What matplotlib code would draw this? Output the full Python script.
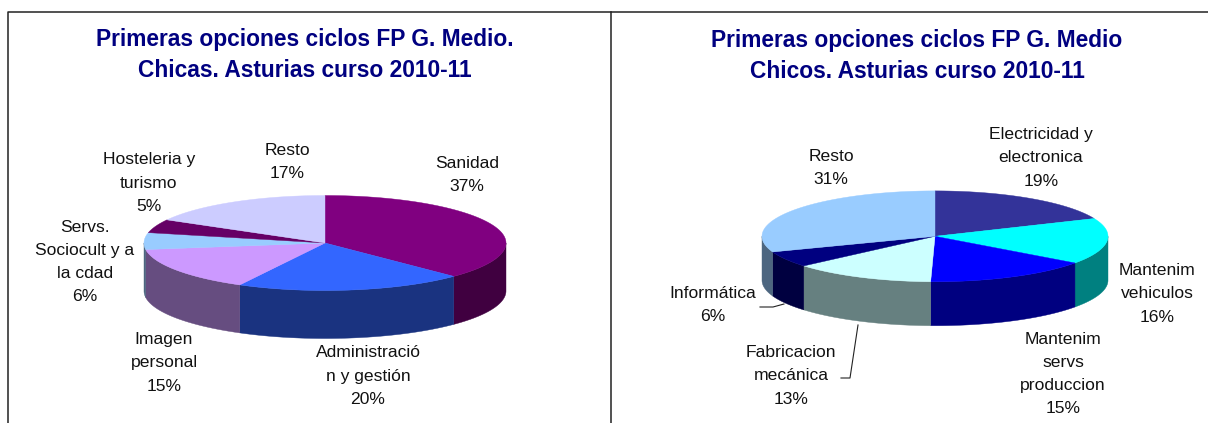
import matplotlib
matplotlib.use("Agg")
import matplotlib.pyplot as plt
import numpy as np
from matplotlib.patches import Polygon

plt.rcParams['font.family'] = ['Liberation Sans', 'DejaVu Sans']

WIDTH, HEIGHT = 1208, 423

chicas_labels = ["Sanidad", "Administració\nn y gestión", "Imagen\npersonal",
                 "Servs.\nSociocult y a\nla cdad", "Hosteleria y\nturismo", "Resto"]
chicas_values = [37.4, 20.4, 15.0, 5.7, 4.6, 16.9]
chicas_top = ["#800080", "#3366FF", "#CC99FF", "#99CCFF", "#660066", "#CCCCFF"]
chicas_side = ["#400040", "#1A3380", "#664D80", "#4D6680", "#330033", "#666680"]

chicos_labels = ["Electricidad y\nelectronica", "Mantenim\nvehiculos", "Mantenim\nservs\nproduccion",
                 "Fabricacion\nmecánica", "Informática", "Resto"]
chicos_values = [18.6, 16.4, 15.4, 13.3, 5.7, 30.6]
chicos_top = ["#333399", "#00FFFF", "#0000FF", "#CCFFFF", "#000080", "#99CCFF"]
chicos_side = ["#1A1A4D", "#008080", "#000080", "#668080", "#000040", "#4D6680"]


def draw_pie(ax, values, top_colors, side_colors, cx, cy, rx, ry, depth):
    edges = np.cumsum([0] + list(values)) / sum(values) * 2 * np.pi

    def rim(a, b):
        t = np.linspace(a, b, max(int((b - a) * 60), 2))
        return cx + rx * np.sin(t), cy - ry * np.cos(t)

    # side walls only where the rim faces the viewer
    for a, b, col in zip(edges[:-1], edges[1:], side_colors):
        a2, b2 = max(a, np.pi / 2), min(b, 3 * np.pi / 2)
        if b2 <= a2:
            continue
        x, y = rim(a2, b2)
        pts = np.r_[np.c_[x, y], np.c_[x[::-1], y[::-1] + depth]]
        ax.add_patch(Polygon(pts, closed=True, fc=col, ec=col, lw=0.3))

    for a, b, col in zip(edges[:-1], edges[1:], top_colors):
        x, y = rim(a, b)
        pts = np.r_[[[cx, cy]], np.c_[x, y]]
        ax.add_patch(Polygon(pts, closed=True, fc=col, ec=col, lw=0.3))


def draw_labels(ax, labels, values, centers):
    for lab, v, (x, y) in zip(labels, values, centers):
        ax.text(x, y, f"{lab}\n{round(v)}%", ha="center", va="center", fontsize=12.6,
                color="#111111", linespacing=1.68)


fig = plt.figure(figsize=(WIDTH / 100, HEIGHT / 100), dpi=100)
ax = fig.add_axes([0, 0, 1, 1])
ax.set_xlim(0, WIDTH)
ax.set_ylim(HEIGHT, 0)
ax.axis("off")

# chart frames, no bottom edge
ax.plot([8, 8, WIDTH], [HEIGHT, 12, 12], color="#222222", lw=1.1)
ax.plot([611, 611], [12, HEIGHT], color="#222222", lw=1.1)

draw_pie(ax, chicas_values, chicas_top, chicas_side, 325, 243, 181, 47.5, 48)
draw_pie(ax, chicos_values, chicos_top, chicos_side, 935, 236.3, 173, 45.4, 44)

draw_labels(ax, chicas_labels, chicas_values,
            [(467, 175), (368, 376), (164, 363), (85, 262), (149, 183), (287, 162)])
draw_labels(ax, chicos_labels, chicos_values,
            [(1041, 158), (1157, 294), (1063, 374), (791, 376), (713, 305), (831, 168)])

# leader lines
ax.plot([760, 773, 784], [307, 307, 304], color="#222222", lw=0.8)
ax.plot([841, 850, 858], [378, 378, 325], color="#222222", lw=0.8)

title_kw = dict(ha="center", va="center", fontsize=16.4, fontweight="bold",
                color="#000080", linespacing=1.42)
ax.text(305, 55, "Primeras opciones ciclos FP G. Medio.\nChicas. Asturias curso 2010-11", **title_kw)
ax.text(917, 56, "Primeras opciones ciclos FP G. Medio\nChicos. Asturias curso 2010-11", **title_kw)

fig.savefig("out.png", dpi=100)
